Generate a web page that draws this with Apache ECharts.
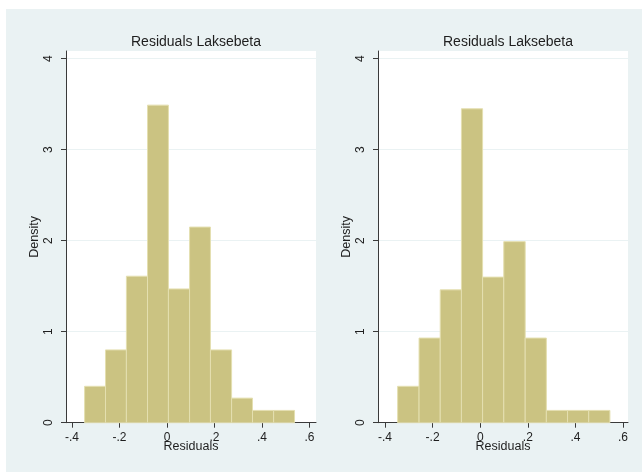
<!DOCTYPE html>
<html>
<head>
<meta charset="utf-8">
<script src="https://cdn.jsdelivr.net/npm/echarts@6/dist/echarts.min.js"></script>
<style>
html,body{margin:0;padding:0;background:#ffffff;}
#wrap{position:relative;width:642px;height:472px;overflow:hidden;}
#bg{position:absolute;left:6px;top:9px;width:636px;height:463px;background:#eaf2f3;}
#main{position:absolute;left:0;top:0;width:642px;height:472px;}
</style>
</head>
<body>
<div id="wrap"><div id="bg"></div><div id="main"></div></div>
<script>
// ---- data ----
var panelTitles = ['Residuals Laksebeta', 'Residuals Laksebeta'];
var xTickValues = [-0.4, -0.2, 0, 0.2, 0.4, 0.6];
var xTickLabels = ['-.4', '-.2', '0', '.2', '.4', '.6'];
var yTickValues = [0, 1, 2, 3, 4];
var yTickLabels = ['0', '1', '2', '3', '4'];

var leftBinEdges = [-0.347, -0.259, -0.171, -0.082, 0.006, 0.095, 0.183, 0.272, 0.360, 0.449, 0.537];
var leftDensity  = [0.40, 0.80, 1.61, 3.49, 1.47, 2.15, 0.80, 0.27, 0.135, 0.135];

var rightBinEdges = [-0.347, -0.257, -0.168, -0.079, 0.010, 0.099, 0.189, 0.278, 0.367, 0.456, 0.545];
var rightDensity  = [0.40, 0.93, 1.46, 3.45, 1.60, 1.99, 0.93, 0.135, 0.135, 0.135];

// ---- build ----
function binData(edges, dens) {
  var out = [];
  for (var i = 0; i < dens.length; i++) out.push([edges[i], edges[i + 1], dens[i]]);
  return out;
}
var FONT = 'Arial, "Liberation Sans", sans-serif';
var BAR = '#cbc382';
var BAR_EDGE = '#e4dfb0';
var AXIS = '#3a3a3a';
var GRIDC = '#eaf2f3';
var TXT = '#1e1e1e';

function renderBar(params, api) {
  var p0 = api.coord([api.value(0), api.value(2)]);
  var p1 = api.coord([api.value(1), 0]);
  return {
    type: 'rect',
    shape: { x: p0[0], y: p0[1], width: p1[0] - p0[0], height: p1[1] - p0[1] },
    style: { fill: BAR, stroke: BAR_EDGE, lineWidth: 1 }
  };
}

function xAxisDef(gi, min, max) {
  return {
    type: 'value', gridIndex: gi, min: min, max: max,
    name: 'Residuals', nameLocation: 'middle', nameGap: 17, nameMoveOverlap: false,
    nameTextStyle: { fontFamily: FONT, fontSize: 12.5, color: TXT, verticalAlign: 'top' },
    axisLine: { show: true, onZero: false, lineStyle: { color: AXIS, width: 1 } },
    axisTick: { show: true, length: 5, inside: false, customValues: xTickValues, lineStyle: { color: AXIS } },
    axisLabel: {
      customValues: xTickValues, margin: 9, fontFamily: FONT, fontSize: 12, color: TXT,
      formatter: function (v) { var i = xTickValues.indexOf(+v.toFixed(4)); return i >= 0 ? xTickLabels[i] : ''; }
    },
    splitLine: { show: false }
  };
}
function yAxisDef(gi) {
  return {
    type: 'value', gridIndex: gi, min: 0, max: 4.085,
    name: 'Density', nameLocation: 'middle', nameGap: 25, nameRotate: 90, nameMoveOverlap: false,
    nameTextStyle: { fontFamily: FONT, fontSize: 12.5, color: TXT },
    axisLine: { show: true, onZero: false, lineStyle: { color: AXIS, width: 1 } },
    axisTick: { show: true, length: 5, inside: false, customValues: yTickValues, lineStyle: { color: AXIS } },
    axisLabel: {
      customValues: yTickValues, margin: 11, rotate: 90, fontFamily: FONT, fontSize: 12, color: TXT,
      formatter: function (v) { var i = yTickValues.indexOf(+v.toFixed(4)); return i >= 0 ? yTickLabels[i] : ''; }
    },
    splitLine: { show: true, lineStyle: { color: GRIDC, width: 1 } }
  };
}

var chart = echarts.init(document.getElementById('main'), null, { renderer: 'canvas' });
chart.setOption({
  backgroundColor: 'transparent',
  animation: false,
  title: [
    { text: panelTitles[0], left: 191, top: 30, textAlign: 'center',
      textStyle: { fontFamily: FONT, fontSize: 14, fontWeight: 'normal', color: TXT } },
    { text: panelTitles[1], left: 503, top: 30, textAlign: 'center',
      textStyle: { fontFamily: FONT, fontSize: 14, fontWeight: 'normal', color: TXT } }
  ],
  grid: [
    { left: 66, top: 51, width: 250, height: 371.7, show: true, backgroundColor: '#ffffff', borderWidth: 0 },
    { left: 378, top: 51, width: 250, height: 371.7, show: true, backgroundColor: '#ffffff', borderWidth: 0 }
  ],
  xAxis: [xAxisDef(0, -0.4253, 0.6274), xAxisDef(1, -0.4295, 0.621)],
  yAxis: [yAxisDef(0), yAxisDef(1)],
  series: [
    { type: 'custom', xAxisIndex: 0, yAxisIndex: 0, renderItem: renderBar,
      encode: { x: [0, 1], y: 2 }, data: binData(leftBinEdges, leftDensity) },
    { type: 'custom', xAxisIndex: 1, yAxisIndex: 1, renderItem: renderBar,
      encode: { x: [0, 1], y: 2 }, data: binData(rightBinEdges, rightDensity) }
  ]
});
</script>
</body>
</html>
